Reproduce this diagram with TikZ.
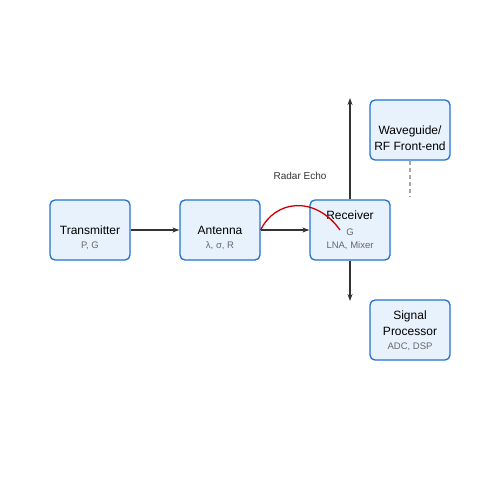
\documentclass[tikz,border=0pt]{standalone}
\usepackage{fontspec}
\setmainfont{Liberation Sans}
\usetikzlibrary{arrows.meta}

\definecolor{boxfill}{HTML}{E8F2FD}
\definecolor{boxline}{HTML}{2271CC}
\definecolor{arrowgray}{HTML}{333333}
\definecolor{subgray}{HTML}{666666}
\definecolor{echored}{HTML}{CC0000}

\tikzset{
  block/.style={draw=boxline, fill=boxfill, line width=1.3pt, rounded corners=5pt,
    minimum width=80pt, minimum height=60pt, inner sep=0pt},
  title/.style={inner sep=0pt, font=\fontsize{12}{14}\selectfont},
  sub/.style={inner sep=0pt, text=subgray, font=\fontsize{9.5}{11}\selectfont},
  flow/.style={draw=arrowgray, line width=1.2pt, -{Stealth[length=7pt,width=5pt]}},
}

\begin{document}
\begin{tikzpicture}[x=1pt,y=-1pt]
\useasboundingbox (0,0) rectangle (500,500);
% blocks
\node[block] (tx) at (90,230) {};
\node[block] (ant) at (220,230) {};
\node[block] (rx) at (350,230) {};
\node[block] (wg) at (410,130) {};
\node[block] (sp) at (410,330) {};
% texts
\node[title] at (90,230) {Transmitter};
\node[sub] at (90,246) {P, G};
\node[title] at (220,230) {Antenna};
\node[sub] at (220,246) {λ, σ, R};
\node[title] at (350,215) {Receiver};
\node[sub] at (350,232) {G};
\node[sub] at (350,246) {LNA, Mixer};
\node[title] at (410,131) {Waveguide/};
\node[title] at (410,146) {RF Front-end};
\node[title] at (410,316) {Signal};
\node[title] at (410,331) {Processor};
\node[sub] at (410,347) {ADC, DSP};
\node[inner sep=0pt, text=arrowgray, font=\fontsize{10}{12}\selectfont] at (300,176) {Radar Echo};
% connectors
\coordinate (rxtop) at (350,98);
\coordinate (rxbot) at (350,301);
\coordinate (wgend) at (410,197);
\coordinate (echoend) at (340,230);
\draw[flow] (tx.east) -- (ant.west);
\draw[flow] (ant.east) -- (rx.west);
\draw[flow] (rx.north) -- (rxtop);
\draw[flow] (rx.south) -- (rxbot);
\draw[draw=gray!70, line width=1.2pt, dash pattern=on 4pt off 3pt] (wg.south) -- (wgend);
\draw[echored, line width=1.3pt] (ant.east) .. controls (275,200) and (315,195) .. (echoend);
\end{tikzpicture}
\end{document}
